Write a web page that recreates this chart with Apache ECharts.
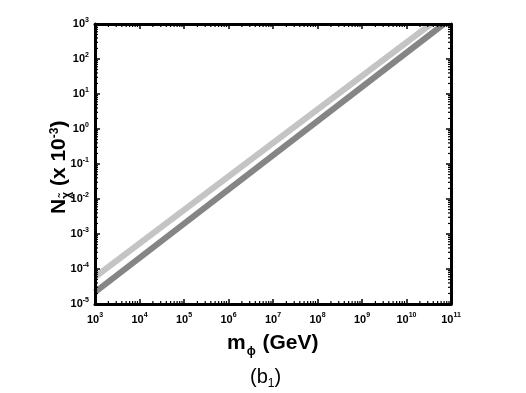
<!DOCTYPE html>
<html><head><meta charset="utf-8">
<script src="https://cdn.jsdelivr.net/npm/echarts@6/dist/echarts.min.js"></script>
<style>html,body{margin:0;padding:0;background:#fff}#c{width:526px;height:393px}</style>
</head><body><div id="c"></div>
<script>
// Data
var lightLine = [[1e3, 5.9e-5], [3.55e10, 1000]];
var darkLine  = [[1e3, 2.2e-5], [6.9e10, 1000]];
var xRange = [1e3, 1e11];
var yRange = [1e-5, 1e3];
var xTitle = 'm';
var yTitle = 'N';

var FONT = 'Liberation Sans, Arial, sans-serif';
function supLabel(v) {
  var e = Math.round(Math.log10(v));
  return '{b|10}{s|' + e + '}';
}
var rich = {
  b: {fontFamily: FONT, fontWeight: 'bold', fontSize: 11, color: '#000'},
  s: {fontFamily: FONT, fontWeight: 'bold', fontSize: 7, color: '#000', verticalAlign: 'bottom', padding: [0, 0, 8, 0]}
};
var axisLine = {show: true, onZero: false, lineStyle: {color: '#000', width: 3}};
var majorTick = {show: true, inside: true, length: 5, lineStyle: {color: '#000', width: 1.5}};

function minorTicks(params, api) {
  var ch = [];
  var x0 = api.coord([xRange[0], yRange[0]]);
  var x1 = api.coord([xRange[1], yRange[1]]);
  var L = 3;
  for (var d = 3; d < 11; d++) {
    for (var k = 2; k <= 9; k++) {
      var px = api.coord([k * Math.pow(10, d), yRange[0]])[0];
      ch.push({type: 'line', shape: {x1: px, y1: x0[1], x2: px, y2: x0[1] - L}, style: {stroke: '#000', lineWidth: 1.2}});
      ch.push({type: 'line', shape: {x1: px, y1: x1[1], x2: px, y2: x1[1] + L}, style: {stroke: '#000', lineWidth: 1.2}});
    }
  }
  for (var d2 = -5; d2 < 3; d2++) {
    for (var k2 = 2; k2 <= 9; k2++) {
      var py = api.coord([xRange[0], k2 * Math.pow(10, d2)])[1];
      ch.push({type: 'line', shape: {x1: x0[0], y1: py, x2: x0[0] + L, y2: py}, style: {stroke: '#000', lineWidth: 1.2}});
      ch.push({type: 'line', shape: {x1: x1[0], y1: py, x2: x1[0] - L, y2: py}, style: {stroke: '#000', lineWidth: 1.2}});
    }
  }
  return {type: 'group', children: ch};
}

var chart = echarts.init(document.getElementById('c'), null, {renderer: 'canvas'});
chart.setOption({
  animation: false,
  backgroundColor: '#fff',
  grid: {left: 95, right: 75, top: 24, bottom: 89, containLabel: false},
  xAxis: [
    {type: 'log', logBase: 10, min: xRange[0], max: xRange[1], splitNumber: 8, position: 'bottom', z: 6,
     axisLine: axisLine, axisTick: majorTick, splitLine: {show: false},
     axisLabel: {margin: 8, formatter: supLabel, rich: rich}},
    {type: 'log', logBase: 10, min: xRange[0], max: xRange[1], splitNumber: 8, position: 'top', z: 6,
     axisLine: axisLine, axisTick: majorTick, splitLine: {show: false}, axisLabel: {show: false}}
  ],
  yAxis: [
    {type: 'log', logBase: 10, min: yRange[0], max: yRange[1], splitNumber: 8, position: 'left', z: 6,
     axisLine: axisLine, axisTick: majorTick, splitLine: {show: false},
     axisLabel: {margin: 6, formatter: supLabel, rich: rich}},
    {type: 'log', logBase: 10, min: yRange[0], max: yRange[1], splitNumber: 8, position: 'right', z: 6,
     axisLine: axisLine, axisTick: majorTick, splitLine: {show: false}, axisLabel: {show: false}}
  ],
  series: [
    {type: 'line', data: lightLine, showSymbol: false, symbol: 'none', clip: true, z: 2,
     lineStyle: {color: '#c4c4c4', width: 6}},
    {type: 'line', data: darkLine, showSymbol: false, symbol: 'none', clip: true, z: 2,
     lineStyle: {color: '#858585', width: 6}},
    {type: 'custom', renderItem: minorTicks, data: [[xRange[0], yRange[0]]], z: 10, silent: true, clip: false}
  ],
  graphic: [
    {type: 'rect', z: 4, silent: true, shape: {x: 90, y: 0, width: 375, height: 23}, style: {fill: '#fff'}},
    {type: 'text', left: 227, top: 333,
     style: {rich: {
       a: {fontFamily: FONT, fontWeight: 'bold', fontSize: 21, color: '#000'},
       sub: {fontFamily: FONT, fontWeight: 'bold', fontSize: 12, color: '#000', verticalAlign: 'top', padding: [17, 1, 0, 1]}
     }, text: '{a|' + xTitle + '}{sub|ϕ}{a| (GeV)}'}},
    {type: 'text', left: 250, top: 367,
     style: {rich: {
       a: {fontFamily: FONT, fontSize: 20, color: '#000'},
       sub: {fontFamily: FONT, fontSize: 12, color: '#000', verticalAlign: 'top', padding: [14, 0, 0, 0]}
     }, text: '{a|(b}{sub|1}{a|)}'}},
    {type: 'text', x: 45, y: 214, rotation: Math.PI / 2,
     style: {rich: {
       a: {fontFamily: FONT, fontWeight: 'bold', fontSize: 21, color: '#000'},
       sub: {fontFamily: FONT, fontWeight: 'bold', fontSize: 12, color: '#000', verticalAlign: 'top', padding: [16, 0, 0, 0]},
       sup: {fontFamily: FONT, fontWeight: 'bold', fontSize: 12, color: '#000', verticalAlign: 'bottom', padding: [0, 0, 12, 0]}
     }, text: '{a|' + yTitle + '}{sub|χ̃}{a| (x 10}{sup|-3}{a|)}'}}
  ]
});
</script></body></html>
